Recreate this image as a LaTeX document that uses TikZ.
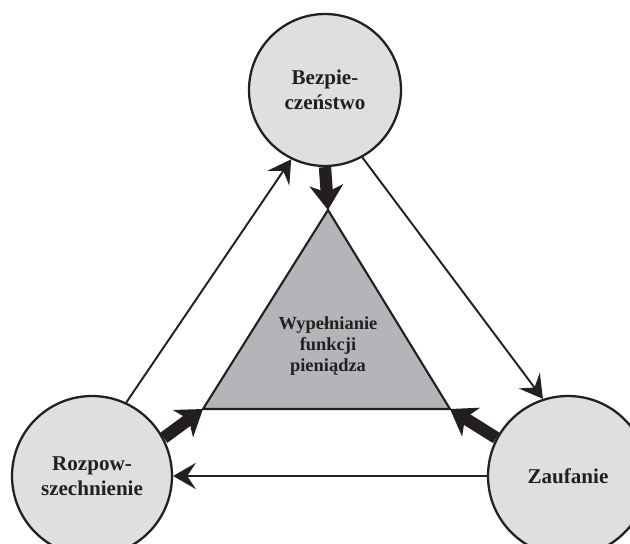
\documentclass[tikz,border=0pt]{standalone}
\usepackage{fontspec}
\setmainfont{Liberation Serif}
\usetikzlibrary{arrows.meta}
\definecolor{kolo}{RGB}{222,223,225}
\definecolor{trojkat}{RGB}{180,181,185}
\definecolor{linia}{RGB}{35,31,32}

\begin{document}
\begin{tikzpicture}[x=0.02cm, y=-0.02cm,
  filar/.style={circle, draw=linia, line width=1.3pt, fill=kolo, inner sep=0pt,
    align=center, text=linia, font=\fontsize{12}{14.5}\selectfont\bfseries},
  cienka/.style={draw=linia, line width=1.1pt, -{Stealth[length=13pt,width=15pt,inset=5pt]}},
  gruba/.style={draw=linia, line width=7pt, -{Stealth[length=14pt,width=19pt,inset=4pt]}}]
  \useasboundingbox (0,0) rectangle (630,544);
  \clip (0,0) rectangle (630,544);
  % Three pillars
  \node[filar, minimum size=3.04cm] (bezp) at (325,90) {Bezpie-\\czeństwo};
  \node[filar, minimum size=3.2cm] (rozp) at (92,476) {Rozpow-\\szechnienie};
  \node[filar, minimum size=3.2cm] (zauf) at (568,476) {Zaufanie};
  % Central triangle
  \coordinate (szczyt) at (328,210);
  \coordinate (lewy) at (203,409);
  \coordinate (prawy) at (450,409);
  \draw[draw=linia, fill=trojkat, line width=1.2pt] (szczyt) -- (lewy) -- (prawy) -- cycle;
  \node[align=center, text=linia, font=\fontsize{10.5}{12}\selectfont\bfseries] (funkcja) at (328,346)
    {Wypełnianie\\funkcji\\pieniądza};
  % Cycle between pillars
  \draw[cienka] (rozp.65) -- (bezp.244);
  \draw[cienka] (bezp.-61) -- (zauf.108);
  \draw[cienka] (zauf.west) -- (rozp.east);
  % Pillars supporting the function
  \draw[gruba] (bezp.south) -- (szczyt);
  \draw[gruba] (rozp.28) -- (lewy);
  \draw[gruba] (zauf.152) -- (prawy);
\end{tikzpicture}
\end{document}
